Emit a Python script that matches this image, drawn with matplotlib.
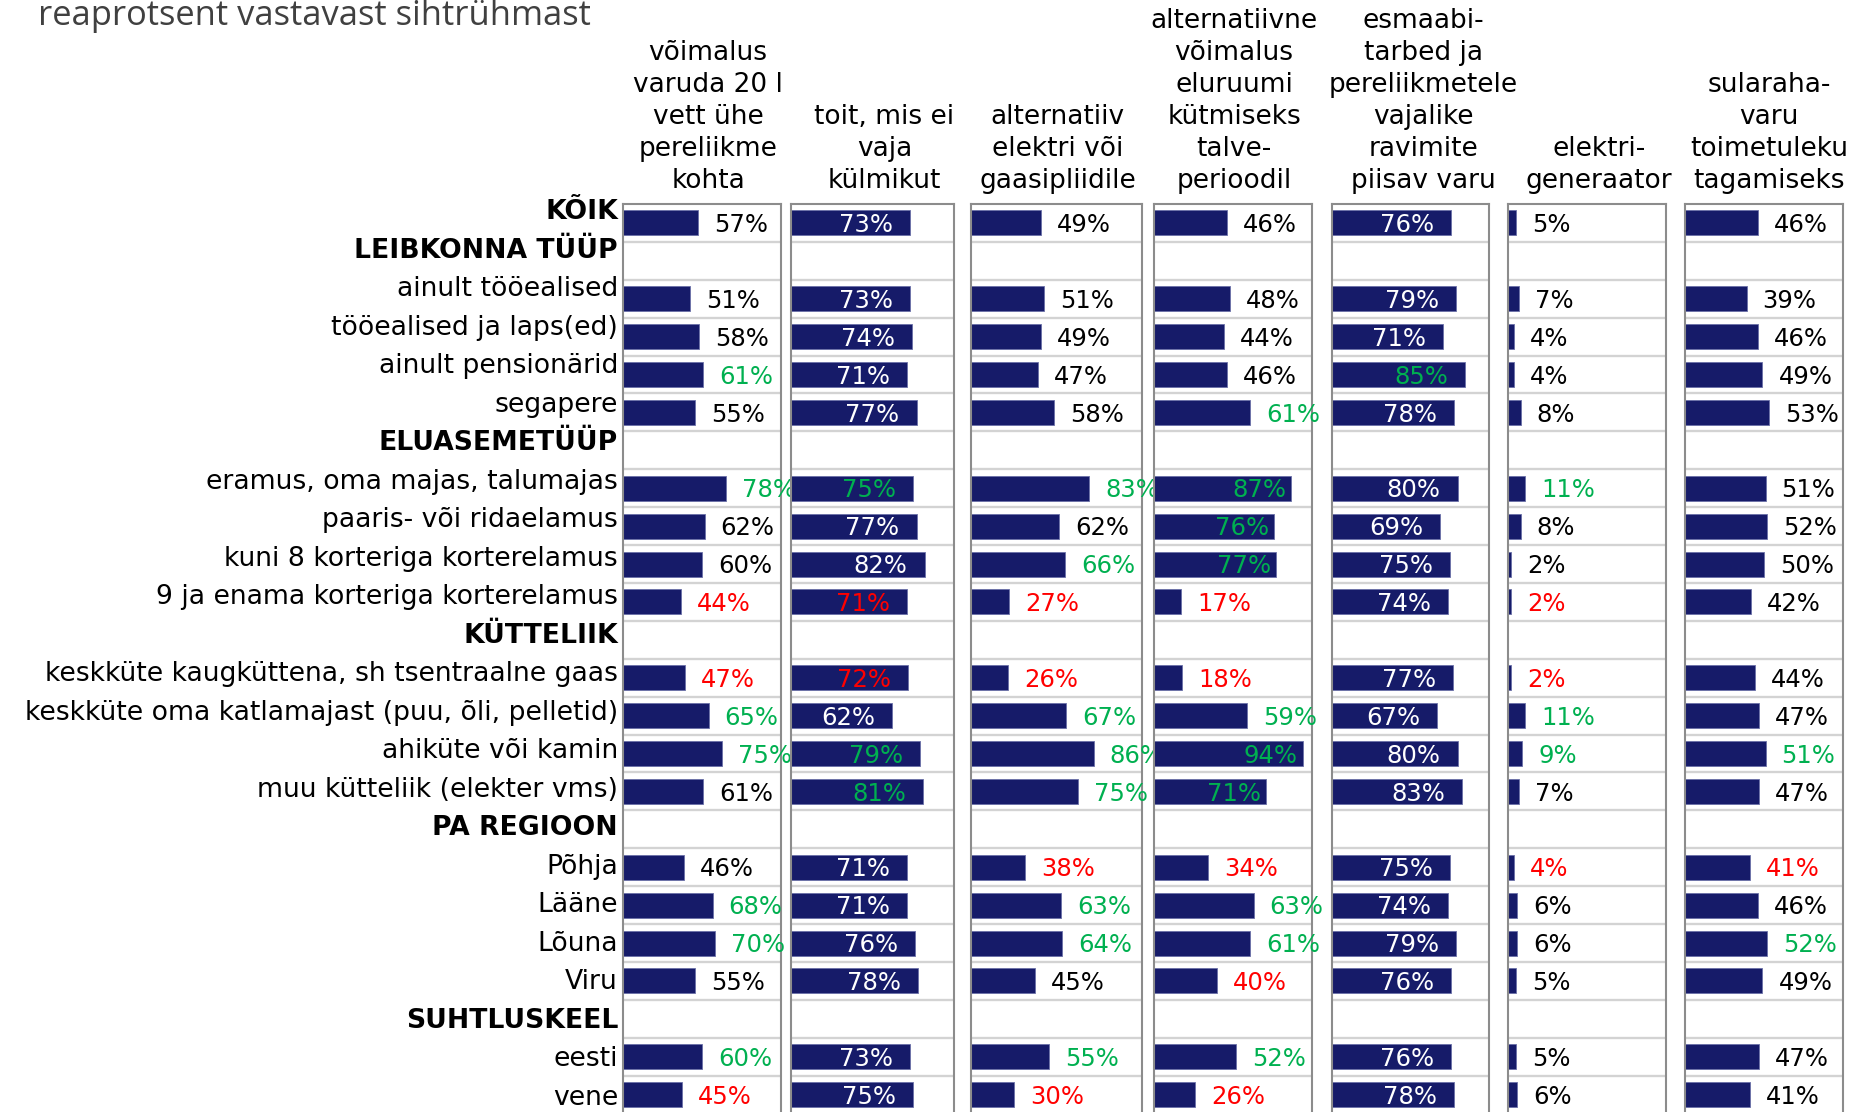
import matplotlib
matplotlib.use("Agg")
import matplotlib.pyplot as plt

# ---- data -------------------------------------------------------------
title = "reaprotsent vastavast sihtrühmast"

column_titles = [
    ["võimalus", "varuda 20 l", "vett ühe", "pereliikme", "kohta"],
    ["toit, mis ei", "vaja", "külmikut"],
    ["alternatiiv", "elektri või", "gaasipliidile"],
    ["alternatiivne", "võimalus", "eluruumi", "kütmiseks", "talve-", "perioodil"],
    ["esmaabi-", "tarbed ja", "pereliikmetele", "vajalike", "ravimite", "piisav varu"],
    ["elektri-", "generaator"],
    ["sularaha-", "varu", "toimetuleku", "tagamiseks"],
]

row_labels = [
    "KÕIK",
    "LEIBKONNA TÜÜP",
    "ainult tööealised",
    "tööealised ja laps(ed)",
    "ainult pensionärid",
    "segapere",
    "ELUASEMETÜÜP",
    "eramus, oma majas, talumajas",
    "paaris- või ridaelamus",
    "kuni 8 korteriga korterelamus",
    "9 ja enama korteriga korterelamus",
    "KÜTTELIIK",
    "keskküte kaugküttena, sh tsentraalne gaas",
    "keskküte oma katlamajast (puu, õli, pelletid)",
    "ahiküte või kamin",
    "muu kütteliik (elekter vms)",
    "PA REGIOON",
    "Põhja",
    "Lääne",
    "Lõuna",
    "Viru",
    "SUHTLUSKEEL",
    "eesti",
    "vene",
]
bold_rows = ["KÕIK", "LEIBKONNA TÜÜP", "ELUASEMETÜÜP", "KÜTTELIIK",
             "PA REGIOON", "SUHTLUSKEEL"]

N = None
water = [57, N, 51, 58, 61, 55, N, 78, 62, 60, 44, N, 47, 65, 75, 61, N, 46, 68, 70, 55, N, 60, 45]
food = [73, N, 73, 74, 71, 77, N, 75, 77, 82, 71, N, 72, 62, 79, 81, N, 71, 71, 76, 78, N, 73, 75]
stove = [49, N, 51, 49, 47, 58, N, 83, 62, 66, 27, N, 26, 67, 86, 75, N, 38, 63, 64, 45, N, 55, 30]
heating = [46, N, 48, 44, 46, 61, N, 87, 76, 77, 17, N, 18, 59, 94, 71, N, 34, 63, 61, 40, N, 52, 26]
firstaid = [76, N, 79, 71, 85, 78, N, 80, 69, 75, 74, N, 77, 67, 80, 83, N, 75, 74, 79, 76, N, 76, 78]
generator = [5, N, 7, 4, 4, 8, N, 11, 8, 2, 2, N, 2, 11, 9, 7, N, 4, 6, 6, 5, N, 5, 6]
cash = [46, N, 39, 46, 49, 53, N, 51, 52, 50, 42, N, 44, 47, 51, 47, N, 41, 46, 52, 49, N, 47, 41]

# +1 significantly above average, -1 significantly below, 0 no difference
water_sig = [0, N, 0, 0, 1, 0, N, 1, 0, 0, -1, N, -1, 1, 1, 0, N, 0, 1, 1, 0, N, 1, -1]
food_sig = [0, N, 0, 0, 0, 0, N, 1, 0, 0, -1, N, -1, 0, 1, 1, N, 0, 0, 0, 0, N, 0, 0]
stove_sig = [0, N, 0, 0, 0, 0, N, 1, 0, 1, -1, N, -1, 1, 1, 1, N, -1, 1, 1, 0, N, 1, -1]
heating_sig = [0, N, 0, 0, 0, 1, N, 1, 1, 1, -1, N, -1, 1, 1, 1, N, -1, 1, 1, -1, N, 1, -1]
firstaid_sig = [0, N, 0, 0, 1, 0, N, 0, 0, 0, 0, N, 0, 0, 0, 0, N, 0, 0, 0, 0, N, 0, 0]
generator_sig = [0, N, 0, 0, 0, 0, N, 1, 0, 0, -1, N, -1, 1, 1, 0, N, -1, 0, 0, 0, N, 0, 0]
cash_sig = [0, N, 0, 0, 0, 0, N, 0, 0, 0, 0, N, 0, 0, 1, 0, N, -1, 0, 1, 0, N, 0, 0]

series = [water, food, stove, heating, firstaid, generator, cash]
significance = [water_sig, food_sig, stove_sig, heating_sig, firstaid_sig,
                generator_sig, cash_sig]

# ---- layout / style ---------------------------------------------------
W, H = 1862, 1112
panel_px = [(623, 781), (791, 954), (971, 1142), (1154, 1312),
            (1332, 1489), (1508, 1666), (1685, 1843)]
head_shift_px = [6, 12, 1, 1, 13, 12, 5]
axis_max = [1.2, 1.0, 1.2, 1.0, 1.0, 1.0, 1.0]
# value at/above which the label sits inside the bar end (None: always outside)
inside_from = [None, 0, None, 0.70, 0, None, None]
inside_gap_px = [17, 17, 17, 5, 17, 17, 17]
outside_gap_px = 16

panel_top, row_h = 204, 37.9
n_rows = len(row_labels)

BAR = "#161b69"
BAR_EDGE = "#6a70a8"
GREEN = "#00b050"
RED = "#ff0000"
GRID = "#d3d3d3"
FRAME = "#8c8c8c"
VALUE_FS = 17.5
HEAD_FS = 19
ROW_FS = 19.2

fig = plt.figure(figsize=(W / 100, H / 100), dpi=100)
fig.patch.set_facecolor("white")

px2pt = 72 / 100
panel_bottom = panel_top + n_rows * row_h

for k, ((x0, x1), vals, sig) in enumerate(zip(panel_px, series, significance)):
    ax = fig.add_axes([x0 / W, 1 - panel_bottom / H, (x1 - x0) / W,
                       (panel_bottom - panel_top) / H])
    ax.set_xlim(0, axis_max[k])
    ax.set_ylim(n_rows, 0)
    ax.set_xticks([])
    ax.set_yticks([])
    for s in ax.spines.values():
        s.set_color(FRAME)
        s.set_linewidth(1.5)
    for b in range(1, n_rows):
        ax.axhline(b, color=GRID, lw=1.7, zorder=1)

    for i, (v, sg) in enumerate(zip(vals, sig)):
        if v is None:
            continue
        f = v / 100
        ax.barh(i + 0.5, f, height=0.66, left=0, color=BAR,
                edgecolor=BAR_EDGE, linewidth=0.6, zorder=2)
        inside = inside_from[k] is not None and f >= inside_from[k]
        if sg == 1:
            col = GREEN
        elif sg == -1:
            col = RED
        else:
            col = "white" if inside else "black"
        if inside:
            ax.annotate(f"{v}%", (f, i + 0.5),
                        xytext=(-inside_gap_px[k] * px2pt, -1.5),
                        textcoords="offset points", ha="right", va="center",
                        fontsize=VALUE_FS, color=col, zorder=3,
                        annotation_clip=False)
        else:
            ax.annotate(f"{v}%", (f, i + 0.5),
                        xytext=(outside_gap_px * px2pt, -1.5),
                        textcoords="offset points", ha="left", va="center",
                        fontsize=VALUE_FS, color=col, zorder=3,
                        annotation_clip=False)

    # column heading, stacked lines above the panel
    cx = ((x0 + x1) / 2 + head_shift_px[k]) / W
    lines = column_titles[k]
    for j, line in enumerate(lines):
        base = 188 - (len(lines) - 1 - j) * 32
        fig.text(cx, 1 - base / H, line, ha="center", va="baseline",
                 fontsize=HEAD_FS, color="black")

# row labels
lab_top, lab_bot = 212, 1098
for i, lab in enumerate(row_labels):
    y = lab_top + i * (lab_bot - lab_top) / (n_rows - 1)
    fig.text(618 / W, 1 - y / H, lab, ha="right", va="center",
             fontsize=ROW_FS, color="black",
             fontweight="bold" if lab in bold_rows else "normal")

fig.text(38 / W, 1 - 25 / H, title, ha="left", va="baseline",
         fontsize=24.8, color="#404040", family=["Open Sans", "DejaVu Sans"])

fig.savefig("out.png", dpi=100, facecolor="white")
